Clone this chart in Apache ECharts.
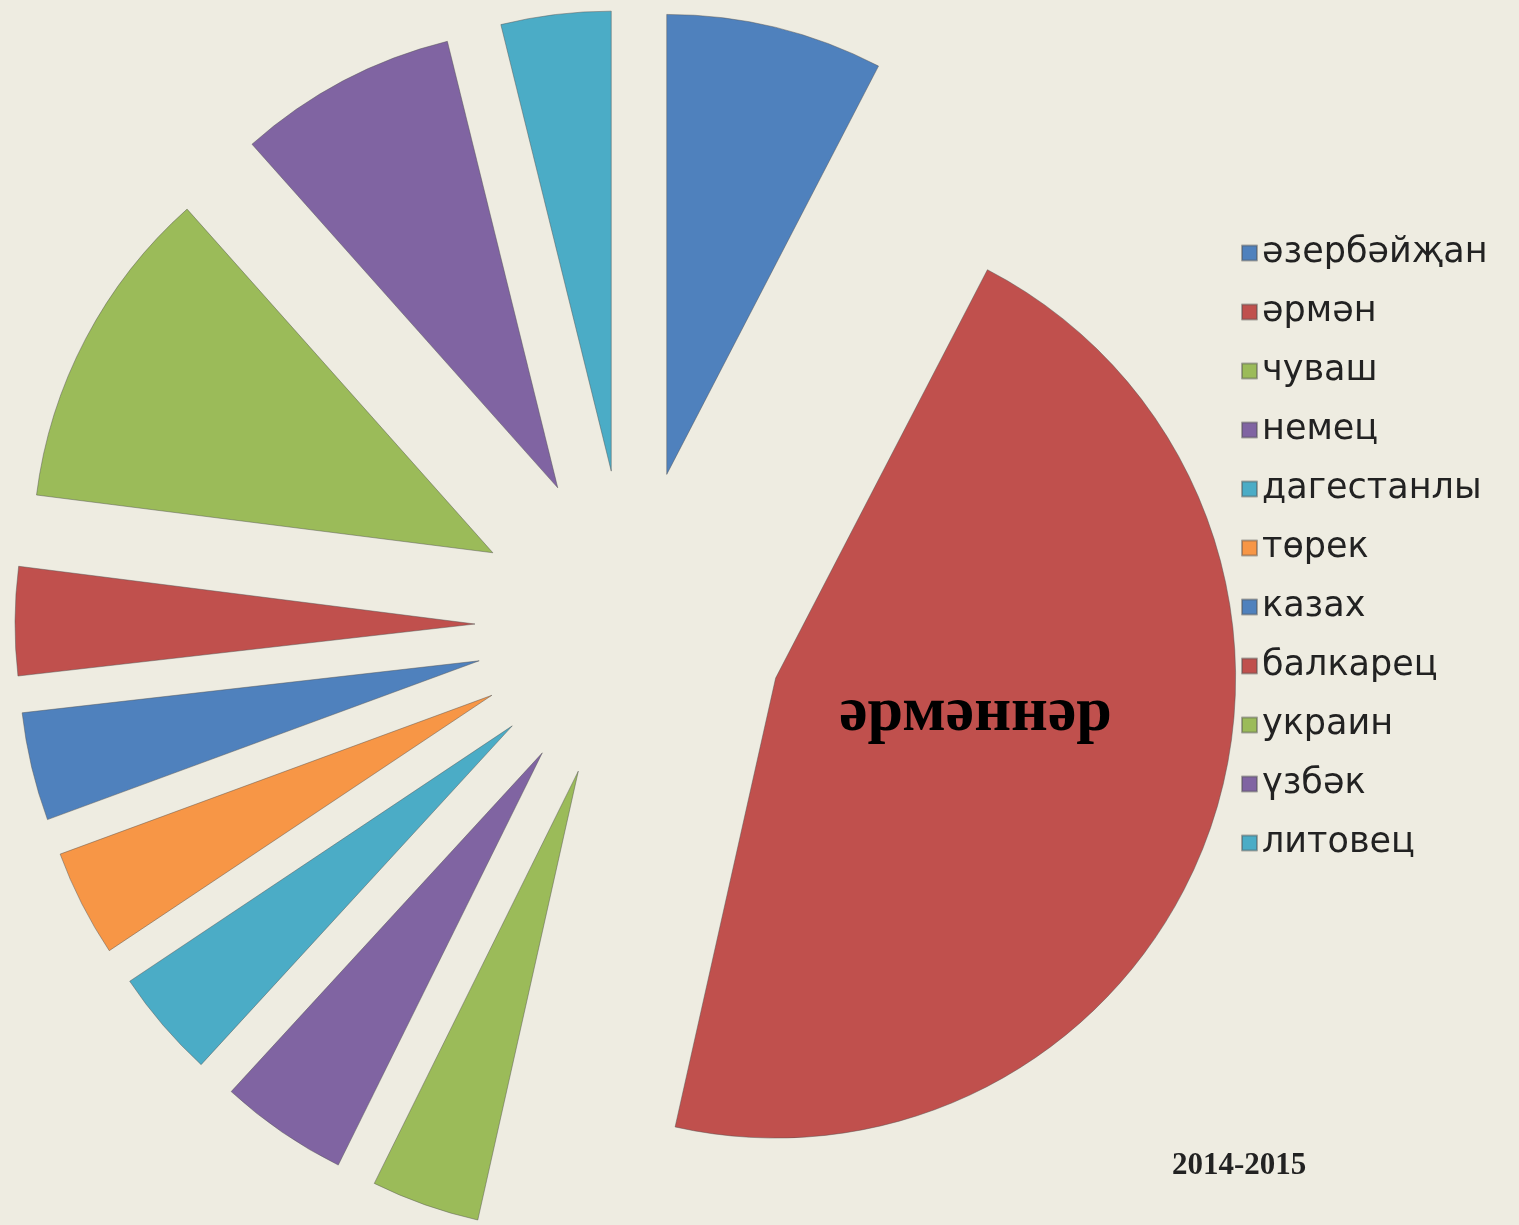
<!DOCTYPE html>
<html>
<head>
<meta charset="utf-8">
<script src="https://cdn.jsdelivr.net/npm/echarts@6/dist/echarts.min.js"></script>
<style>
html,body{margin:0;padding:0;background:#EEECE1;}
#chart{width:1519px;height:1225px;}
</style>
</head>
<body>
<div id="chart"></div>
<script>
var categories = ['әзербәйҗан','әрмән','чуваш','немец','дагестанлы','төрек','казах','балкарец','украин','үзбәк','литовец'];
var values = [7.6, 45.8, 3.8, 4.5, 3.8, 3.75, 3.8, 3.8, 11.4, 7.7, 3.85];
var colors = ['#4F81BD','#C0504D','#9BBB59','#8064A2','#4BACC6','#F79646','#4F81BD','#C0504D','#9BBB59','#8064A2','#4BACC6'];
var bigLabel = 'әрмәннәр';
var yearTitle = '2014-2015';

var chart = echarts.init(document.getElementById('chart'));
var border = {borderColor:'rgba(80,80,80,0.45)', borderWidth:1};
var data = categories.map(function(name, i){
  var item = {
    name: name,
    value: values[i],
    selected: true,
    itemStyle: Object.assign({color: colors[i]}, border),
    select: {itemStyle: Object.assign({color: colors[i]}, border)}
  };
  if (i === 1) {
    item.label = {
      show: true, position: 'inside', formatter: bigLabel + '\n ',
      fontFamily: 'Liberation Serif', fontWeight: 'bold', fontSize: 64,
      lineHeight: 88,
      color: '#000', padding: [0, 38, 0, 0]
    };
  }
  return item;
});

chart.setOption({
  backgroundColor: '#EEECE1',
  animation: false,
  title: {
    text: yearTitle, left: 1172, top: 1150, padding: 0,
    textStyle: {fontFamily: 'Liberation Serif', fontWeight: 'bold', fontSize: 31, color: '#222'}
  },
  legend: {
    orient: 'vertical', left: 1241, top: 233, padding: 0,
    itemWidth: 15, itemHeight: 15, itemGap: 19,
    icon: 'rect',
    selectedMode: false,
    data: categories,
    textStyle: {fontFamily: 'DejaVu Sans', fontSize: 35, color: '#222', lineHeight: 40}
  },
  series: [{
    type: 'pie',
    center: [630, 625],
    radius: [0, 460],
    startAngle: 90,
    clockwise: true,
    selectedMode: 'multiple',
    selectedOffset: 155,
    avoidLabelOverlap: false,
    label: {show: false},
    labelLine: {show: false},
    emphasis: {disabled: true},
    data: data
  }]
});
</script>
</body>
</html>
